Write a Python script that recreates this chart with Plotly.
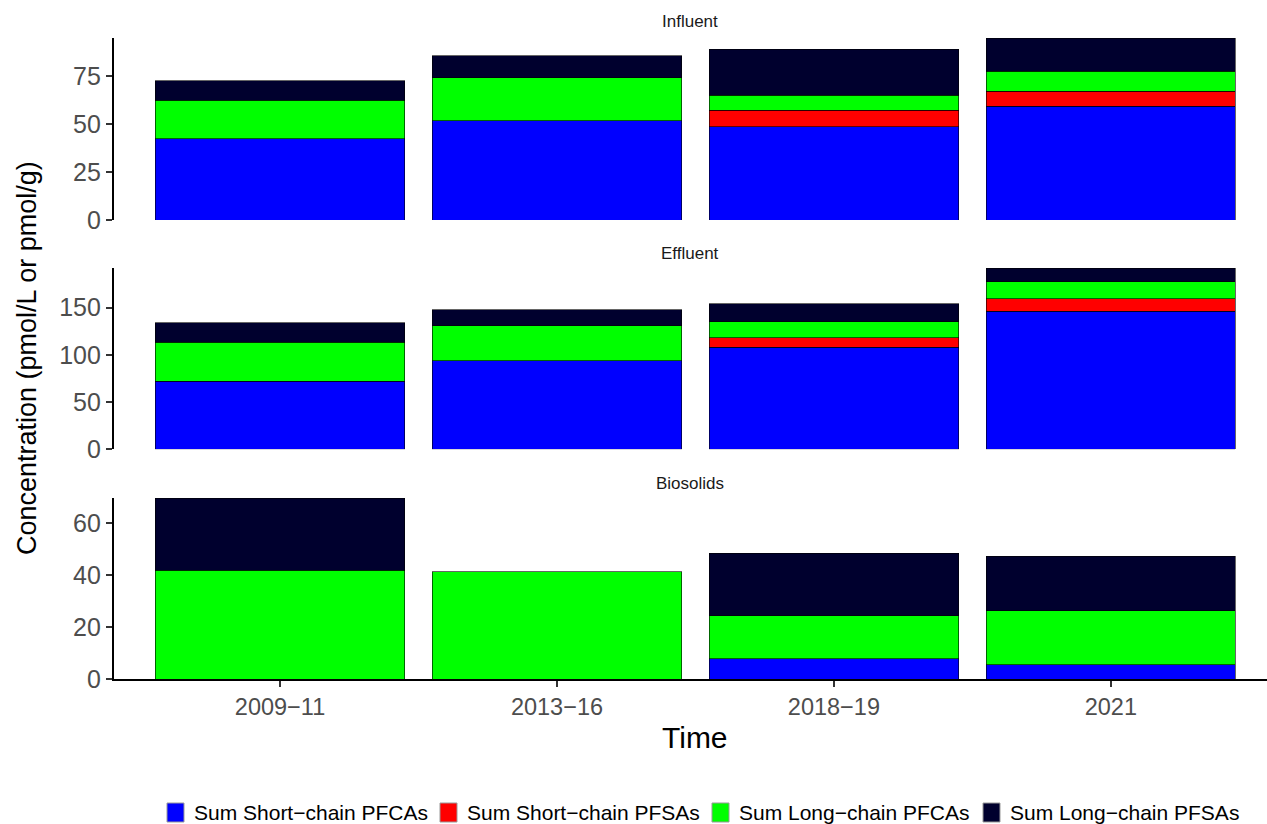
import plotly.graph_objects as go

W, H = 1267, 824

periods = ["2009−11", "2013−16", "2018−19", "2021"]
panels = ["Influent", "Effluent", "Biosolids"]
series_names = ["Sum Short−chain PFCAs", "Sum Short−chain PFSAs",
                "Sum Long−chain PFCAs", "Sum Long−chain PFSAs"]
series_colors = ["#0000FF", "#FF0000", "#00FF00", "#00002E"]

# values per panel, one list per series (bottom to top of the stack)
influent_short_pfca = [42.2, 51.7, 48.6, 59.2]
influent_short_pfsa = [None, None, 8.5, 7.8]
influent_long_pfca = [20.3, 22.3, 7.9, 10.4]
influent_long_pfsa = [10.0, 11.6, 24.0, 17.4]

effluent_short_pfca = [72.0, 93.9, 108.0, 146.2]
effluent_short_pfsa = [None, None, 10.2, 13.0]
effluent_long_pfca = [41.3, 36.7, 17.0, 18.3]
effluent_long_pfsa = [20.5, 17.0, 19.0, 14.5]

biosolids_short_pfca = [None, None, 7.8, 5.4]
biosolids_short_pfsa = [None, None, None, None]
biosolids_long_pfca = [41.8, 41.3, 16.6, 20.8]
biosolids_long_pfsa = [27.8, None, 24.0, 21.0]

panel_data = {
    "Influent": [influent_short_pfca, influent_short_pfsa, influent_long_pfca, influent_long_pfsa],
    "Effluent": [effluent_short_pfca, effluent_short_pfsa, effluent_long_pfca, effluent_long_pfsa],
    "Biosolids": [biosolids_short_pfca, biosolids_short_pfsa, biosolids_long_pfca, biosolids_long_pfsa],
}
panel_ticks = {"Influent": [0, 25, 50, 75], "Effluent": [0, 50, 100, 150], "Biosolids": [0, 20, 40, 60]}

# pixel layout (top, bottom) of each panel
panel_px = {"Influent": (38, 220), "Effluent": (268, 449.3), "Biosolids": (498, 679)}
strip_px = {"Influent": 22, "Effluent": 253, "Biosolids": 483}
x_left_px = 113.6
x_right_px = 1267
legend_key_px = [167, 440, 712, 983]

FONT = "Liberation Sans, Arial, Helvetica, sans-serif"

fig = go.Figure()
layout = dict(
    width=W, height=H, paper_bgcolor="white", plot_bgcolor="white",
    margin=dict(l=0, r=0, t=0, b=0, autoexpand=False), barmode="stack", bargap=0.1,
    font=dict(family=FONT),
    showlegend=False,
    annotations=[], shapes=[],
)

for pi, pname in enumerate(panels):
    axn = "" if pi == 0 else str(pi + 1)
    xa = "x" + axn
    ya = "y" + axn
    data = panel_data[pname]
    for si in range(4):
        fig.add_trace(go.Bar(
            x=periods, y=data[si], name=series_names[si],
            marker=dict(color=series_colors[si], line=dict(color="black", width=0.6)),
            width=0.9, xaxis=xa, yaxis=ya,
        ))
    totals = [sum(v for v in (data[s][i] for s in range(4)) if v is not None) for i in range(4)]
    top, bot = panel_px[pname]
    is_bottom = pname == "Biosolids"
    layout["xaxis" + axn] = dict(
        domain=[x_left_px / W, 1.0], anchor=ya, type="category",
        categoryorder="array", categoryarray=periods,
        range=[-0.601, 3.564],
        showline=is_bottom, linecolor="black", linewidth=1.5,
        ticks="outside" if is_bottom else "", ticklen=6, tickwidth=1.5, tickcolor="#333333",
        showticklabels=is_bottom, tickfont=dict(size=23.5, color="#4d4d4d", family=FONT),
        showgrid=False, zeroline=False,
    )
    layout["yaxis" + axn] = dict(
        domain=[1 - bot / H, 1 - top / H], anchor=xa,
        range=[0, max(totals)],
        tickvals=panel_ticks[pname],
        showline=True, linecolor="black", linewidth=1.5,
        ticks="outside", ticklen=6, tickwidth=1.5, tickcolor="#333333",
        tickfont=dict(size=25, color="#4d4d4d", family=FONT),
        showgrid=False, zeroline=False,
    )
    layout["annotations"].append(dict(
        text=pname, xref="paper", yref="paper",
        x=(x_left_px + x_right_px) / 2 / W, y=1 - strip_px[pname] / H,
        xanchor="center", yanchor="middle", showarrow=False,
        font=dict(size=17, color="#1a1a1a", family=FONT),
    ))

layout["annotations"].append(dict(
    text="Concentration (pmol/L or pmol/g)", xref="paper", yref="paper",
    x=27 / W, y=1 - 358 / H, xanchor="center", yanchor="middle", textangle=-90,
    showarrow=False, font=dict(size=27, color="black", family=FONT),
))
layout["annotations"].append(dict(
    text="Time", xref="paper", yref="paper",
    x=695 / W, y=1 - 737 / H, xanchor="center", yanchor="middle",
    showarrow=False, font=dict(size=30, color="black", family=FONT),
))

# legend drawn as keys + labels
for si in range(4):
    kx = legend_key_px[si]
    layout["shapes"].append(dict(
        type="rect", xref="paper", yref="paper",
        x0=kx / W, x1=(kx + 17) / W, y0=1 - 822 / H, y1=1 - 803 / H,
        fillcolor=series_colors[si], line=dict(color="#999999", width=1),
    ))
    layout["annotations"].append(dict(
        text=series_names[si], xref="paper", yref="paper",
        x=(kx + 25) / W, y=1 - 812 / H, xanchor="left", yanchor="middle",
        showarrow=False, font=dict(size=21, color="black", family=FONT),
    ))

fig.update_layout(**layout)
fig.write_html(
    "out.html",
    config={"displayModeBar": False},
    post_script="document.body.style.margin='0';document.body.style.overflow='hidden';",
)
